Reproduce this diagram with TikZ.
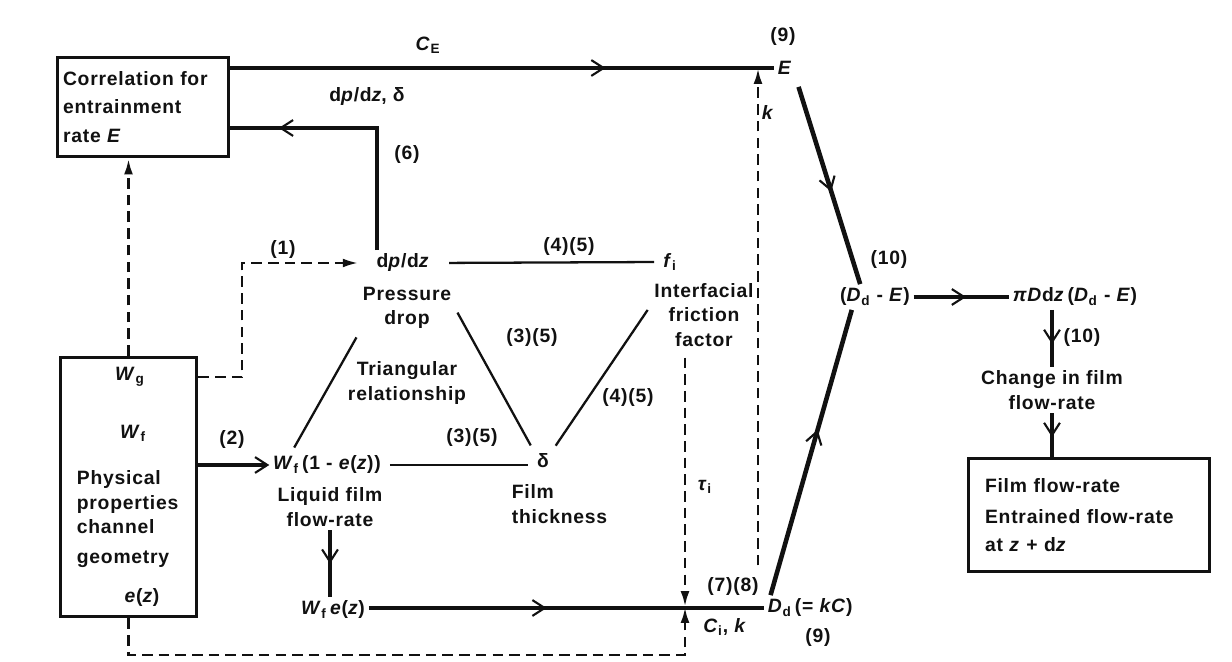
\documentclass[tikz,border=0pt]{standalone}
\usepackage{fontspec}
\setmainfont{Liberation Sans}[LetterSpace=4]
\usetikzlibrary{arrows.meta,decorations.markings}
\definecolor{ink}{HTML}{111111}
\newcommand{\vsub}[2]{\textit{#1}\textsubscript{#2}}

\begin{document}
\begin{tikzpicture}[
    x=0.02cm, y=-0.02cm,
    font=\fontsize{11}{14}\selectfont\bfseries,
    % --- text and boxes ----------------------------------------------
    txt/.style={inner sep=2pt,text=ink},
    lbl/.style={txt,align=center},
    box/.style={draw=ink,line width=1.7pt,inner sep=0pt},
    % --- connectors --------------------------------------------------
    thk/.style={draw=ink,line width=2.6pt},
    rel/.style={draw=ink,line width=1.3pt,shorten <=3pt,shorten >=3pt},
    dsh/.style={draw=ink,line width=1.6pt,dash pattern=on 6pt off 3.5pt},
    dtip/.style={-{Latex[length=9pt,width=5pt]}},
    barb/.style={-{Straight Barb[length=7pt,width=9pt,line width=1.2pt]}},
    midbarb/.style={postaction={decorate},decoration={markings,
        mark=at position #1 with {\arrow{Straight Barb[length=7pt,width=9pt,line width=1.2pt]}}}},
  ]
\useasboundingbox (0,0) rectangle (1232,662);

% =====================================================================
%  Boxes
% =====================================================================
\node[box,minimum width=3.44cm,minimum height=2cm,text width=3.2cm,
      inner xsep=0.12cm,align=left,text=ink] (corr) at (143,107)
     {Correlation for\\[2pt] entrainment\\[2pt] rate \textit{E}};
\node[box,minimum width=2.74cm,minimum height=5.2cm] (phys) at (128.5,487) {};
\node[box,minimum width=4.84cm,minimum height=2.28cm,text width=4.16cm,
      inner xsep=0.34cm,align=left,text=ink] (res) at (1089,515)
     {Film flow-rate\\[4pt] Entrained flow-rate\\[2pt] at \textit{z} + d\textit{z}};

% ---- inside the physical properties box -----------------------------
\node[txt] (Wg) at (130,377) {\vsub{W}{g}};
\node[txt] (Wf) at (133,433) {\vsub{W}{f}};
\node[txt,align=left,anchor=west] (props) at (73,519)
     {Physical\\ properties\\ channel\\[3pt] geometry};
\node[txt] (ez) at (142,598) {\textit{e}(\textit{z})};

% =====================================================================
%  Quantities
% =====================================================================
\node[txt] (E) at (785,68) {\textit{E}};
\node[txt] (dpdz) at (403,263) {d\textit{p}/d\textit{z}};
\node[lbl] (pdrop) at (407,308) {Pressure\\ drop};
\node[txt] (fi) at (670,262) {\vsub{f}{i}};
\node[lbl] (fif) at (704,315) {Interfacial\\ friction\\ factor};
\node[txt] (Wff) at (327,465) {\vsub{W}{f}\,(1 - \textit{e}(\textit{z}))};
\node[lbl] (lff) at (330,507) {Liquid film\\ flow-rate};
\node[txt] (delta) at (543,461) {δ};
\node[txt,align=left,anchor=west] (fth) at (508,504) {Film\\ thickness};
\node[txt] (Wfe) at (333,610) {\vsub{W}{f}\,\textit{e}(\textit{z})};
\node[txt,anchor=west] (Dd) at (764,608) {\vsub{D}{d}\,(= \textit{kC})};
\node[txt] (DmE) at (875,297) {(\vsub{D}{d} - \textit{E})};
\node[txt] (piD) at (1075,297) {\textit{πD}d\textit{z}\,(\vsub{D}{d} - \textit{E})};
\node[lbl] (chg) at (1052,390) {Change in film\\ flow-rate};

% ---- labels ----------------------------------------------------------
\node[txt] (lCE) at (428,45) {\vsub{C}{E}};
\node[txt] (l9a) at (783,37) {(9)};
\node[txt] (lk) at (768,113) {\textit{k}};
\node[txt] (ldd) at (367,97) {d\textit{p}/d\textit{z}, δ};
\node[txt] (l6) at (407,155) {(6)};
\node[txt] (l1) at (283,250) {(1)};
\node[txt] (l45a) at (569,247) {(4)(5)};
\node[txt] (l35a) at (532,338) {(3)(5)};
\node[lbl] (tri) at (407,383) {Triangular\\ relationship};
\node[txt] (l45b) at (628,398) {(4)(5)};
\node[txt] (l2) at (232,440) {(2)};
\node[txt] (l35b) at (472,438) {(3)(5)};
\node[txt] (tau) at (705,487) {\vsub{τ}{i}};
\node[txt] (l78) at (733,587) {(7)(8)};
\node[txt] (Cik) at (725,627) {\vsub{C}{i}, \textit{k}};
\node[txt] (l9b) at (818,638) {(9)};
\node[txt] (l10a) at (889,260) {(10)};
\node[txt] (l10b) at (1082,338) {(10)};

% ---- junctions on the main lines -------------------------------------
\coordinate (k6) at (377,128);
\coordinate (k1) at (242,263);
\coordinate (kt) at (685,607);
\coordinate (kb) at (685,655);
\coordinate (kk) at (758,68);

% =====================================================================
%  Connectors
% =====================================================================
\draw[thk,midbarb=0.69] (corr.east |- E.west) -- (E.west);
\draw[thk,midbarb=0.82] (k6 |- dpdz.north) -- (k6) -- (corr.east |- k6);
\draw[dsh,dtip] (phys.north) -- (phys.north |- corr.south);
\draw[dsh,dtip,shorten >=8pt] (phys.east |- Wg) -| (k1) -- (dpdz.west);
\draw[thk,barb] (phys.east |- Wff.west) -- (Wff.west);

% ---- triangular relationship -----------------------------------------
\draw[rel,shorten <=9pt] (dpdz.east) -- (fi.west);
\draw[rel] (pdrop.south west) -- (Wff.160);
\draw[rel] (pdrop.east) -- (delta.north west);
\draw[rel] (delta.north east) -- (fif.170);
\draw[rel] (Wff.east) -- (Wff.east -| delta.west);

% ---- film flow and deposition ----------------------------------------
\draw[thk,midbarb=0.5] (lff.south) -- (lff.south |- Wfe.north);
\draw[thk,midbarb=0.45] (Wfe.east |- Dd.west) -- (Dd.west);
\draw[dsh,dtip,shorten <=4pt] (fif.south -| kt) -- (kt);
\draw[dsh,dtip] (phys.south) |- (kb) -- (kt);
\draw[dsh,dtip,shorten <=5pt] (kk |- l78.north) -- (kk);

% ---- net entrainment -------------------------------------------------
\draw[thk,midbarb=0.55,shorten <=5pt] (E.south east) -- (DmE.139);
\draw[thk,midbarb=0.58] (Dd.162) -- (DmE.209);
\draw[thk,midbarb=0.55] (DmE.east) -- (piD.west);
\draw[thk,midbarb=0.6] (piD.south -| chg.north) -- (chg.north);
\draw[thk,midbarb=0.55] (chg.south) -- (chg.south |- res.north);

\end{tikzpicture}
\end{document}
